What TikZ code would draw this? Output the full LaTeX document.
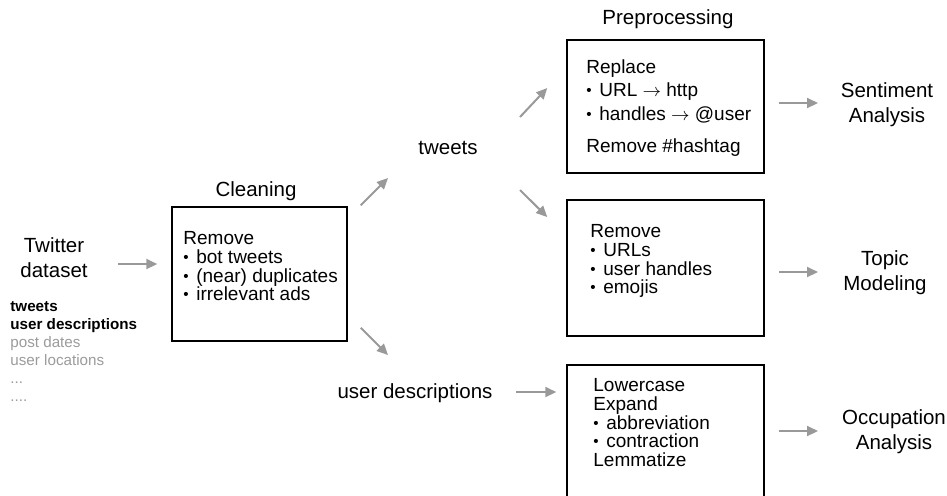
\documentclass[tikz,border=0pt]{standalone}
\usepackage{fontspec}
\setmainfont{Liberation Sans}
\usetikzlibrary{arrows.meta}
\definecolor{flowgray}{RGB}{153,153,153}
\definecolor{notegray}{RGB}{155,155,155}
\newcommand{\itm}{\raisebox{0.1ex}{\scalebox{0.8}{•}}\hspace{0.4em}}
\newcommand{\tto}{~$\rightarrow$~}
\tikzset{
  lbl/.style={font=\fontsize{10.25}{12.5}\selectfont, align=center},
  stage/.style={draw, line width=0.75pt, minimum width=98.5pt, minimum height=67pt, inner sep=0pt},
  steptext/.style={font=\fontsize{9.5}{9.4}\selectfont, align=left, anchor=north west, inner sep=0pt},
  flow/.style={draw=flowgray, line width=1pt, -{Triangle[length=5.5pt,width=5pt]}}
}
\begin{document}
\begin{tikzpicture}[x=0.5pt,y=-0.5pt]
\useasboundingbox (0,0) rectangle (947,495);

\node[lbl] (dataset) at (54,258) {Twitter\\dataset};
\node[anchor=north west, inner sep=0pt, align=left, font=\fontsize{7.6}{9}\selectfont] (fields) at (10,301)
  {\textbf{tweets}\\\textbf{user descriptions}\\\textcolor{notegray}{post dates}\\\textcolor{notegray}{user locations}\\\textcolor{notegray}{...}\\\textcolor{notegray}{....}};

\node[stage, minimum width=87.5pt] (clean) at (259.5,274) {};
\node[lbl] (cleantitle) at (256,191.5) {Cleaning};
\node[steptext] (cleantext) at (183,231) {Remove\\\itm bot tweets\\\itm (near) duplicates\\\itm irrelevant ads};

\node[lbl] (tweets) at (448,148) {tweets};
\node[lbl] (users) at (415,393) {user descriptions};

\node[stage, minimum height=66.5pt] (pre) at (665.5,106.5) {};
\node[lbl] (pretitle) at (668,19.5) {Preprocessing};
\node[steptext, font=\fontsize{9.5}{11.75}\selectfont] (pretext) at (586,59)
  {Replace\\\itm URL\tto http\\\itm handles\tto @user\\[4.25pt]Remove \#hashtag};

\node[stage, minimum height=68pt] (topic) at (665.5,268) {};
\node[steptext] (topictext) at (590,224) {Remove\\\itm URLs\\\itm user handles\\\itm emojis};

\node[stage] (occ) at (665.5,432) {};
\node[steptext] (occtext) at (593,378) {Lowercase\\Expand\\\itm abbreviation\\\itm contraction\\Lemmatize};

\node[lbl] (sentiment) at (887,105) {Sentiment\\Analysis};
\node[lbl] (modeling) at (885,273) {Topic\\Modeling};
\node[lbl] (occupation) at (894,432) {Occupation\\Analysis};

\draw[flow] ([shift={(64,6)}]dataset.center) -- ([shift={(-14,-10)}]clean.west);
\draw[flow] ([shift={(13,-1)}]clean.north east) -- ([shift={(-60,30)}]tweets.center);
\draw[flow] ([shift={(13,-14)}]clean.south east) -- ([shift={(-27,-38)}]users.center);
\draw[flow] ([shift={(72,-31)}]tweets.center) -- ([shift={(-19,-18.5)}]pre.west);
\draw[flow] ([shift={(72,42)}]tweets.center) -- ([shift={(-19,-51)}]topic.west);
\draw[flow] ([shift={(101,-1)}]users.center) -- ([shift={(-10,-40)}]occ.west);
\draw[flow] ([shift={(14,-3.5)}]pre.east) -- ([shift={(-69,-2)}]sentiment.center);
\draw[flow] ([shift={(14,4)}]topic.east) -- ([shift={(-67,-1)}]modeling.center);
\draw[flow] ([shift={(14,-1)}]occ.east) -- ([shift={(-76,-1)}]occupation.center);
\end{tikzpicture}
\end{document}
